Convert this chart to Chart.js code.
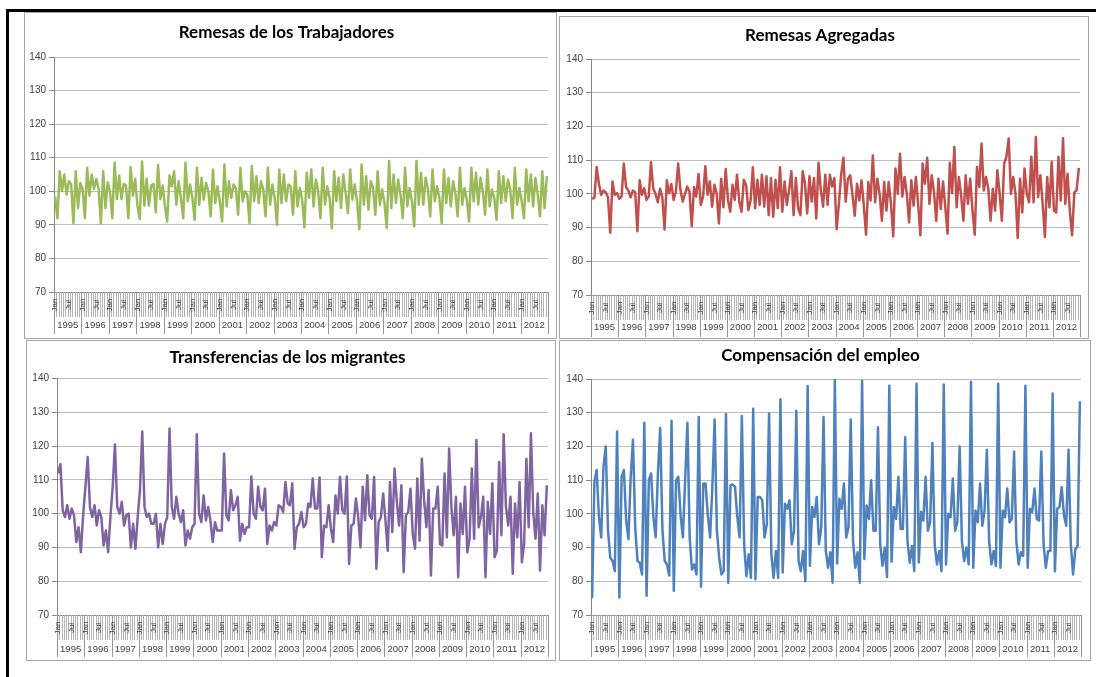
<!DOCTYPE html>
<html>
<head>
<meta charset="utf-8">
<script src="https://cdn.jsdelivr.net/npm/chart.js@4/dist/chart.umd.min.js"></script>
<style>
  html, body { margin: 0; padding: 0; background: #fff; }
  body { width: 1096px; height: 677px; position: relative; overflow: hidden; }
  .frame { position: absolute; left: 6px; top: 9px; width: 1090px; height: 668px;
           border-top: 3px solid #000; border-left: 3px solid #000; box-sizing: border-box; }
  .panel { position: absolute; border: 1px solid #a6a6a6; background: #fff; box-sizing: border-box; }
  .panel canvas { position: absolute; left: 0; top: 0; }
</style>
</head>
<body>
<div class="panel" id="p1" style="left:24px;top:12px;width:533px;height:327px;"><canvas id="c1"></canvas></div>
<div class="panel" id="p2" style="left:559px;top:16px;width:530px;height:323px;"><canvas id="c2"></canvas></div>
<div class="panel" id="p3" style="left:26px;top:340px;width:530px;height:321px;"><canvas id="c3"></canvas></div>
<div class="panel" id="p4" style="left:559px;top:340px;width:532px;height:321px;"><canvas id="c4"></canvas></div>
<div class="frame"></div>
<script>
// Monthly indices, January 1995 - December 2012
const years = ['1995','1996','1997','1998','1999','2000','2001','2002','2003',
               '2004','2005','2006','2007','2008','2009','2010','2011','2012'];
const monthTickLabels = ['Jan','','','','','','Jul','','','','',''];
const categories = [];
years.forEach(y => { for (let m = 1; m <= 12; m++) categories.push(y + '-' + String(m).padStart(2, '0')); });

const yTicks = { min: 70, max: 140, step: 10 };

const remesasTrabajadores = [
  98.5, 92, 106, 100, 105, 99, 103, 102, 90.5, 106, 95, 102.5,
  100.7, 92, 107, 98.7, 105, 100.7, 103.7, 100.7, 90.5, 106, 95, 102.7,
  99.7, 92, 108.5, 97.7, 104.7, 97.7, 102.2, 101.7, 92, 107.2, 98.7, 103.7,
  95.7, 91.7, 108.9, 95.7, 103.7, 95.7, 101.7, 102.2, 93.7, 107.9, 97.7, 101.7,
  95.7, 91, 104.7, 101.5, 106, 96, 103, 98, 92, 108.5, 97, 102,
  98, 91.5, 107, 96, 104, 97.5, 102.5, 100, 92.5, 106.5, 96.5, 101.5,
  97, 91, 108, 95.5, 103, 98, 102, 101, 93, 107, 97, 100,
  99, 90.5, 107.5, 97, 104.5, 96.5, 103, 100.5, 92.5, 107, 96, 102,
  98, 90, 106.5, 96.5, 105, 97, 102, 101.5, 93, 106, 95.5, 101,
  97.5, 89.2, 105.5, 98, 106.5, 95.5, 103.5, 100, 92, 107, 96, 101.5,
  98, 89, 106, 97, 104, 95, 105, 99.5, 93.5, 106.5, 97.5, 102,
  97, 88.7, 108, 96, 104.5, 94.5, 103, 101, 93, 106, 96, 100.5,
  96.5, 89, 109, 95, 105, 96.5, 103.5, 99, 92, 107, 95.5, 101,
  97, 89.5, 109, 96, 105.5, 96, 104, 100.5, 92.5, 106.5, 97, 101.5,
  98, 90.5, 106.5, 96.5, 104, 95.5, 103, 99.5, 92.5, 107, 96, 101,
  97.5, 91, 107, 97, 105.5, 96, 104, 100, 93, 106.5, 95.5, 100.5,
  98, 91.5, 106, 96.5, 104.5, 97, 103.5, 100.5, 92, 107, 96, 101,
  97, 92, 106.5, 97, 105, 95.5, 104, 99, 92.5, 106, 95, 104.5
];

const remesasAgregadas = [
  98.5, 98.9, 108, 103, 99.7, 101, 100.5, 99, 88.5, 103.7, 99.7, 100.2,
  98.5, 99.2, 109, 102, 101, 99, 101, 100.5, 88.9, 104, 99.7, 101.7,
  98.2, 99.2, 109.4, 101.5, 100, 97.5, 101.5, 99, 89.4, 104, 100.2, 102.9,
  98.2, 100.7, 109, 101.2, 97.7, 99.9, 102.2, 100.7, 90.4, 102, 99.2, 105.9,
  96.7, 99.2, 108.2, 99.7, 103.7, 96.2, 102.7, 100.2, 91.2, 104.5, 96, 107.4,
  98.2, 94.7, 102.7, 98.2, 105.7, 97.7, 94.7, 104.2, 102.7, 95.2, 98, 107.9,
  95.7, 104.2, 96.7, 105.7, 96.2, 105.2, 93.7, 104.7, 93.2, 104.2, 95.7, 107.9,
  94.7, 103.7, 96.7, 101.2, 106.7, 93.7, 104.7, 95.7, 93.7, 106.7, 103.2, 94.2,
  105.2, 97.7, 104.7, 92.7, 109.2, 101.2, 96.2, 105.7, 96.7, 105.7, 102.2, 104.7,
  89.5, 97, 105.7, 110.7, 97.7, 104.5, 105.5, 99.7, 93.5, 103, 98, 104,
  96.5, 87.9, 103.5, 98, 111.4, 97.5, 104.5, 100, 92, 103.5, 95, 103.5,
  97, 87.4, 107.5, 100, 111.9, 99.2, 105, 100, 91.5, 104, 96.5, 105,
  97, 87.7, 109, 103, 110.7, 97, 105.5, 100.5, 92, 104.5, 95.5, 103.7,
  96, 88.2, 109.2, 100.2, 113.9, 96, 105, 99.5, 92, 105.5, 97, 104.5,
  95, 87.9, 108, 102, 114.9, 101, 105, 101.5, 92, 101.5, 95, 107,
  100, 92, 109, 111, 116.4, 100, 105, 100, 86.9, 104.5, 94.5, 107.5,
  100, 97.5, 111, 97.5, 116.9, 99, 105.5, 97, 87.2, 105, 96, 109.5,
  95, 94.5, 111, 98, 116.5, 97, 106, 95, 87.7, 100.5, 101, 107.7
];

const transferenciasMigrantes = [
  111.9, 114.7, 101, 99, 102.5, 98.5, 101.5, 99.5, 91.6, 96, 88.6, 99.5,
  108, 116.8, 102, 99, 102.5, 96.5, 101, 99, 90.6, 95, 88.6, 99,
  108, 120.5, 102, 100, 103.5, 96.5, 99.5, 100, 90, 97, 89.6, 99,
  107, 124.3, 102, 99, 100, 97, 97, 100, 90, 97, 91, 97,
  99, 125.2, 102, 98.5, 105, 100, 97.5, 101, 90.6, 95, 92.6, 96,
  97, 123.5, 100, 97.5, 105.4, 98, 102, 98, 91.6, 97.5, 95, 95,
  95, 117.8, 99.5, 98, 107, 101, 102.5, 105, 92, 97, 94, 96,
  96, 111, 100, 98.5, 108, 102, 101, 107.4, 91, 96.5, 95, 97.5,
  96.5, 102.5, 102, 100.5, 109.4, 103, 102.5, 109, 89.6, 96, 97, 100.5,
  96, 97, 103, 102, 110.4, 101.5, 101.5, 110.7, 87.1, 96.5, 96, 102.5,
  95.5, 91.6, 105.4, 100, 110.9, 101, 100, 111, 85.1, 96.5, 97, 104.5,
  99, 90, 108, 98, 111.4, 99.5, 98.5, 110.9, 83.7, 97.5, 99, 106,
  98, 89, 109.4, 94.6, 113.4, 103.5, 96.5, 108.4, 82.7, 99.5, 100.5, 107.4,
  94, 89.6, 110.4, 92, 116.3, 104, 96, 107, 81.7, 101.5, 101.5, 108,
  91, 90.6, 111.9, 93, 119.3, 102, 93.6, 105, 81.2, 103, 94, 108,
  88.6, 92.6, 113.4, 92.6, 121.8, 96, 99, 105, 81.2, 103.5, 94, 109,
  87.1, 89, 115.3, 93.6, 123.5, 102, 96.5, 105, 82.2, 103, 93, 109.4,
  85.6, 91, 116.3, 96, 123.8, 100.5, 92.6, 106, 83.2, 102.5, 93.6, 108.4
];

const compensacionEmpleo = [
  75, 109.5, 113, 99, 93, 114, 120, 95, 87, 86, 83, 124.4,
  75.2, 111, 113, 98, 92.5, 111, 122, 96, 86, 85.5, 82, 127,
  75.7, 110, 112, 99, 93, 112, 125.5, 95, 86, 85, 81.7, 127.6,
  77.2, 110, 111, 99.5, 93, 110, 127, 93, 83.5, 85, 82, 128.7,
  78.4, 109, 109, 99.5, 93, 108, 128, 95, 87, 82, 83, 129.6,
  79.6, 108.5, 108.7, 108, 99, 93, 129, 91, 81.5, 88, 81, 131.2,
  80.6, 105, 105, 104, 93, 97, 129.8, 88, 81, 89, 81, 134,
  82.6, 103, 101.5, 104, 91, 95, 130.6, 86, 83, 89, 80, 137.9,
  84.6, 102, 99, 105, 91, 96, 128.7, 89, 84, 88.6, 79.6, 140,
  85.3, 104.5, 101.5, 109, 93, 96, 128, 92, 84, 88.6, 79.6, 139.5,
  86.6, 102.5, 98.5, 110, 95, 95, 125.7, 91, 84.6, 90, 81.3, 138,
  85.8, 102, 98.5, 111, 95.5, 95.5, 122.7, 92, 85.5, 90.5, 83, 138.6,
  85.6, 100.6, 98, 111, 95, 97.5, 121, 91, 85, 89, 83, 138.4,
  85, 100, 99, 110.5, 95, 97.5, 120, 92, 86, 90, 85, 139.2,
  84, 101, 97.5, 109, 96.5, 101, 119, 92, 85, 89, 84.5, 138.6,
  84, 101, 99, 107.5, 97.5, 98.5, 118.5, 92, 85, 88.6, 87.5, 138,
  84, 101.5, 100.5, 107.5, 98.5, 98, 118.5, 91, 84, 89, 89, 135.7,
  83, 101.5, 102, 108, 99.5, 96.5, 119, 91, 82, 89.5, 90.5, 133.4
];

// Two-level category axis: month tick marks with Jan/Jul labels, then a year row
const categoryBands = {
  id: 'categoryBands',
  afterDraw(chart, args, opts) {
    const ctx = chart.ctx;
    const xs = chart.scales.x;
    const n = xs.getLabels().length;
    const y0 = xs.top;
    ctx.save();
    ctx.lineWidth = 1;
    ctx.strokeStyle = '#b4b4b4';
    ctx.beginPath();
    for (let j = 1; j < n; j++) {
      if (j % 12 === 0) continue;
      const px = Math.round(xs.getPixelForValue(j - 0.5)) + 0.5;
      ctx.moveTo(px, y0);
      ctx.lineTo(px, y0 + opts.monthRow);
    }
    ctx.stroke();
    ctx.strokeStyle = '#969696';
    ctx.beginPath();
    for (let j = 0; j <= n; j += 12) {
      const px = Math.round(xs.getPixelForValue(j - 0.5)) + 0.5;
      ctx.moveTo(px, y0);
      ctx.lineTo(px, y0 + opts.yearRow);
    }
    ctx.stroke();
    ctx.fillStyle = '#404040';
    ctx.font = '8px "Liberation Sans", Arial, sans-serif';
    ctx.textAlign = 'center';
    ctx.textBaseline = 'middle';
    for (let j = 0; j < n; j++) {
      const lab = monthTickLabels[j % 12];
      if (!lab) continue;
      ctx.save();
      ctx.translate(xs.getPixelForValue(j), y0 + 13);
      ctx.rotate(-Math.PI / 2);
      ctx.fillText(lab, 0, 0);
      ctx.restore();
    }
    ctx.font = '9.5px "Liberation Sans", Arial, sans-serif';
    years.forEach((yr, k) => {
      ctx.fillText(yr, xs.getPixelForValue(k * 12 + 5.5), y0 + opts.yearText);
    });
    ctx.restore();
  }
};

function makeChart(id, w, h, title, values, color, g) {
  const cv = document.getElementById(id);
  cv.width = w; cv.height = h;
  cv.style.width = w + 'px'; cv.style.height = h + 'px';
  return new Chart(cv, {
    type: 'line',
    data: {
      labels: categories,
      datasets: [{ data: values, borderColor: color, borderWidth: 2.5, pointRadius: 0,
                   tension: 0, fill: false, borderJoinStyle: 'round' }]
    },
    options: {
      responsive: false, animation: false, devicePixelRatio: 1,
      layout: { padding: { left: 0, right: g.padRight, top: 0, bottom: 0 } },
      plugins: {
        legend: { display: false },
        tooltip: { enabled: false },
        title: { display: true, text: title, color: '#000',
                 font: { family: 'Lato', weight: 'bold', size: 17, lineHeight: 1.2 },
                 padding: { top: g.titleTop, bottom: g.titleBottom } },
        categoryBands: { monthRow: 25, yearRow: 42, yearText: g.yearText }
      },
      scales: {
        x: {
          type: 'category', offset: true,
          grid: { display: false },
          ticks: { display: false },
          border: { color: '#868686', width: 1 },
          afterFit: s => { s.height = g.xHeight; }
        },
        y: {
          min: yTicks.min, max: yTicks.max,
          ticks: { stepSize: yTicks.step, color: '#404040', padding: 3,
                   font: { family: 'Liberation Sans', size: 10 } },
          grid: { color: '#bdbdbd', tickLength: 5, tickColor: '#868686' },
          border: { color: '#868686', width: 1 },
          afterFit: s => { s.width = g.yWidth; }
        }
      }
    },
    plugins: [categoryBands]
  });
}

makeChart('c1', 531, 325, 'Remesas de los Trabajadores', remesasTrabajadores, '#9BBB59',
  { padRight: 8, yWidth: 29, xHeight: 46, titleTop: 9, titleBottom: 14.6, yearText: 33 });
makeChart('c2', 528, 321, 'Remesas Agregadas', remesasAgregadas, '#C0504D',
  { padRight: 8, yWidth: 31, xHeight: 43, titleTop: 8, titleBottom: 13.6, yearText: 32 });
makeChart('c3', 528, 319, 'Transferencias de los migrantes', transferenciasMigrantes, '#8064A2',
  { padRight: 7, yWidth: 30, xHeight: 45, titleTop: 6, titleBottom: 11.2, yearText: 34 });
makeChart('c4', 530, 319, 'Compensación del empleo', compensacionEmpleo, '#4F81BD',
  { padRight: 9, yWidth: 31, xHeight: 45, titleTop: 4, titleBottom: 13.6, yearText: 34 });
</script>
</body>
</html>
